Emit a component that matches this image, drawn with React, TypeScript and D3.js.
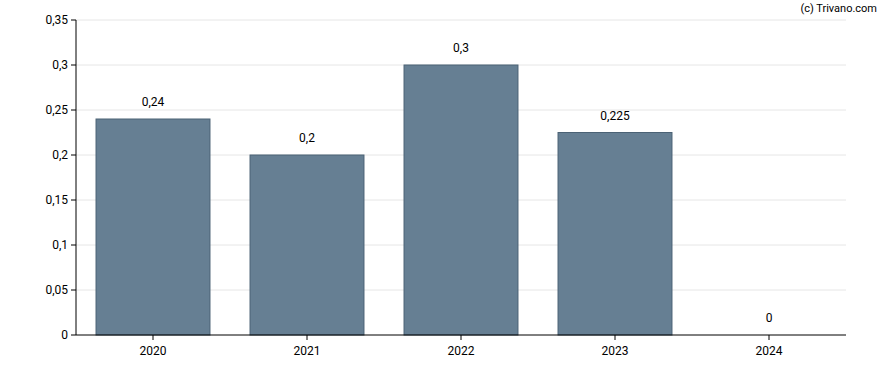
import React from "react";
import * as d3 from "d3";

const categories = ["2020", "2021", "2022", "2023", "2024"];
const values = [0.24, 0.2, 0.3, 0.225, 0];
const valueLabels = ["0,24", "0,2", "0,3", "0,225", "0"];
const yTicks = [0, 0.05, 0.1, 0.15, 0.2, 0.25, 0.3, 0.35];
const yTickLabels = ["0", "0,05", "0,1", "0,15", "0,2", "0,25", "0,3", "0,35"];

const W = 888, H = 370;
const left = 76, right = 846, top = 20, bottom = 335;

export default function App() {
  const x = d3.scaleBand<string>().domain(categories).range([left, right]).paddingInner(0.26).paddingOuter(0.13);
  const y = d3.scaleLinear().domain([0, 0.35]).range([bottom, top]);
  const font = "Roboto, Arial, sans-serif";
  const xc = (c: string) => (x(c) as number) + x.bandwidth() / 2;
  return (
    <svg width={W} height={H} style={{ position: "absolute", left: 0, top: 0 }} fontFamily={font}>
      {yTicks.map((t, i) => (
        <g key={i}>
          {t > 0 && <line x1={left} x2={right} y1={y(t)} y2={y(t)} stroke="#e6e6e6" strokeWidth={1} />}
          <line x1={left - 5} x2={left} y1={y(t)} y2={y(t)} stroke="#000" />
          <text x={left - 8} y={y(t)} dy="0.35em" textAnchor="end" fontSize={12} fill="#000">{yTickLabels[i]}</text>
        </g>
      ))}
      {categories.map((c, i) => (
        <g key={c}>
          {values[i] > 0 && (
            <rect x={x(c)} y={y(values[i])} width={x.bandwidth()} height={y(0) - y(values[i])}
              fill="#667f93" stroke="#4b6275" strokeWidth={1} />
          )}
          <text x={xc(c)} y={y(values[i]) - 13} textAnchor="middle" fontSize={12} fill="#000">{valueLabels[i]}</text>
          <line x1={xc(c)} x2={xc(c)} y1={bottom} y2={bottom + 5} stroke="#000" />
          <text x={xc(c)} y={bottom + 20} textAnchor="middle" fontSize={12} fill="#000">{c}</text>
        </g>
      ))}
      <line x1={left} x2={left} y1={top} y2={bottom} stroke="#000" />
      <line x1={left} x2={right} y1={bottom} y2={bottom} stroke="#000" />
      <text x={877} y={12} textAnchor="end" fontSize={11} fill="#000">(c) Trivano.com</text>
    </svg>
  );
}
